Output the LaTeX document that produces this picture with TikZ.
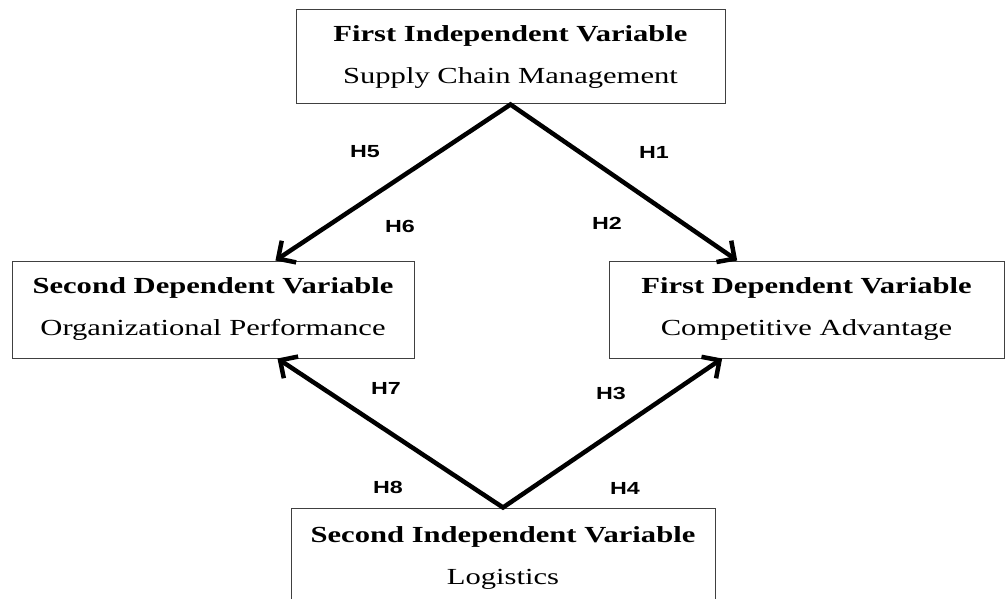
\documentclass[tikz,border=0pt]{standalone}
\usepackage{fontspec}
\setmainfont{Liberation Serif}
\setsansfont{Liberation Sans}
\usetikzlibrary{arrows.meta, calc}
\newcommand{\wide}[1]{\scalebox{1.33}[1]{#1}}

\begin{document}
\begin{tikzpicture}[x=1pt, y=-1pt,
  varbox/.style={draw=black!75, line width=1pt, inner sep=0pt, align=center,
    font=\fontsize{23}{42}\selectfont},
  hyp/.style={font=\sffamily\bfseries\fontsize{17.5}{19}\selectfont},
  link/.style={line width=4.5pt, line join=miter,
    {Straight Barb[length=13pt, width=26pt]}-{Straight Barb[length=13pt, width=26pt]}}]
  \clip (0,0) rectangle (1005,599);

  % variables
  \node[varbox, minimum width=429, minimum height=94] (fiv) at (510.5,57)
    {\wide{\textbf{First Independent Variable}}\\\wide{Supply Chain Management}};
  \node[varbox, minimum width=402, minimum height=97] (sdv) at (213,309.5)
    {\wide{\textbf{Second Dependent Variable}}\\\wide{Organizational Performance}};
  \node[varbox, minimum width=395, minimum height=97] (fdv) at (806.5,309.5)
    {\wide{\textbf{First Dependent Variable}}\\\wide{Competitive Advantage}};
  \node[varbox, minimum width=424, minimum height=100] (siv) at (503,558)
    {\wide{\textbf{Second Independent Variable}}\\\wide{Logistics}};

  % hypotheses
  \draw[link] ($(sdv.north west)!0.655!(sdv.north east)$) -- (fiv.south)
    -- ($(fdv.north west)!0.325!(fdv.north east)$);
  \draw[link] ($(sdv.south west)!0.66!(sdv.south east)$) -- (siv.north)
    -- ($(fdv.south west)!0.287!(fdv.south east)$);

  \node[hyp] (h5) at (365,152) {\wide{H5}};
  \node[hyp] (h1) at (654,152) {\wide{H1}};
  \node[hyp] (h6) at (400,226) {\wide{H6}};
  \node[hyp] (h2) at (607,223) {\wide{H2}};
  \node[hyp] (h7) at (386,388) {\wide{H7}};
  \node[hyp] (h3) at (611,393) {\wide{H3}};
  \node[hyp] (h8) at (388,487) {\wide{H8}};
  \node[hyp] (h4) at (625,488) {\wide{H4}};
\end{tikzpicture}
\end{document}
